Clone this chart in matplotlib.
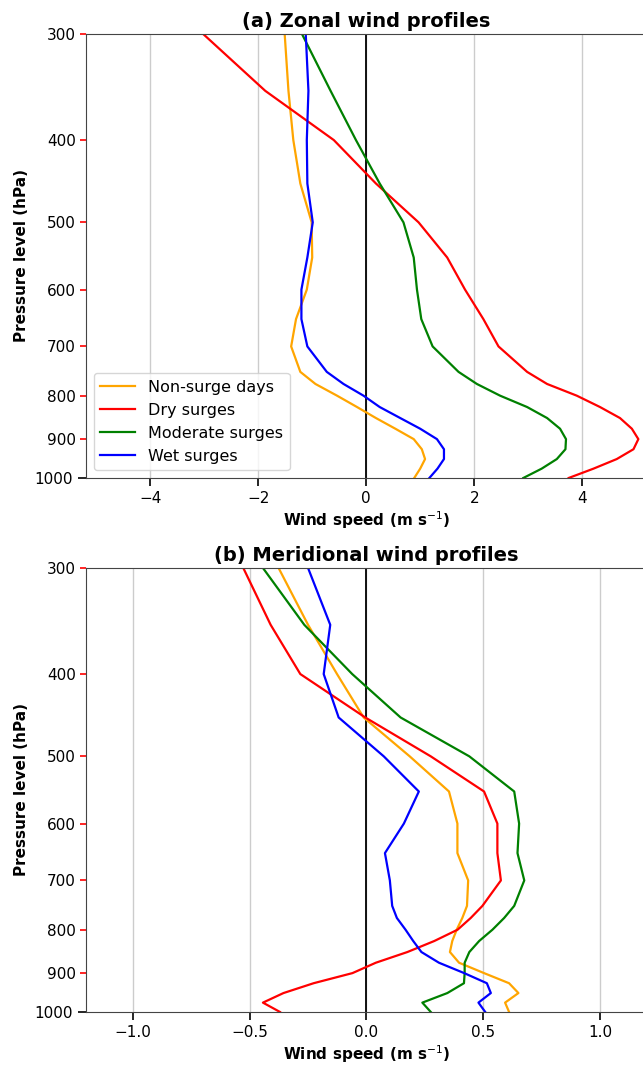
import numpy as np
import matplotlib
matplotlib.use("Agg")
import matplotlib.pyplot as plt
from matplotlib.ticker import NullFormatter

# pressure levels (hPa)
levels = [300, 350, 400, 450, 500, 550, 600, 650, 700, 750, 775, 800,
          825, 850, 875, 900, 925, 950, 975, 1000]
ytick_minor = [300, 400, 500, 600, 700, 800, 900]
ytick_major = [1000]

# zonal wind (m/s)
u_nonsurge = [-1.51, -1.44, -1.35, -1.22, -1.01, -1.00, -1.10, -1.30, -1.39, -1.22,
              -0.94, -0.54, -0.17, 0.18, 0.54, 0.88, 1.03, 1.09, 1.00, 0.89]
u_dry = [-3.02, -1.87, -0.60, 0.18, 0.97, 1.50, 1.83, 2.17, 2.45, 2.98,
         3.35, 3.90, 4.33, 4.70, 4.92, 5.04, 4.95, 4.64, 4.21, 3.75]
u_moderate = [-1.19, -0.66, -0.19, 0.25, 0.69, 0.88, 0.94, 1.02, 1.23, 1.71,
              2.05, 2.48, 2.98, 3.35, 3.59, 3.70, 3.69, 3.53, 3.25, 2.91]
u_wet = [-1.12, -1.07, -1.10, -1.09, -0.99, -1.09, -1.20, -1.20, -1.09, -0.73,
         -0.42, -0.05, 0.25, 0.63, 1.00, 1.31, 1.44, 1.44, 1.32, 1.17]

# meridional wind (m/s)
v_nonsurge = [-0.376, -0.25, -0.126, -0.012, 0.185, 0.353, 0.389, 0.389, 0.435, 0.43,
              0.41, 0.386, 0.367, 0.357, 0.396, 0.503, 0.61, 0.65, 0.593, 0.61]
v_dry = [-0.527, -0.41, -0.283, -0.005, 0.275, 0.503, 0.56, 0.56, 0.575, 0.496,
         0.446, 0.39, 0.29, 0.175, 0.04, -0.06, -0.226, -0.355, -0.443, -0.37]
v_moderate = [-0.443, -0.266, -0.061, 0.146, 0.44, 0.632, 0.653, 0.646, 0.675, 0.632,
              0.589, 0.539, 0.482, 0.44, 0.42, 0.42, 0.417, 0.346, 0.239, 0.275]
v_wet = [-0.25, -0.155, -0.183, -0.119, 0.074, 0.224, 0.16, 0.079, 0.10, 0.11,
         0.13, 0.167, 0.20, 0.235, 0.31, 0.418, 0.515, 0.532, 0.479, 0.508]

labels = ["Non-surge days", "Dry surges", "Moderate surges", "Wet surges"]
colors = ["orange", "red", "green", "blue"]

fig = plt.figure(figsize=(6.43, 10.65), dpi=100)
ax1 = fig.add_axes([0.1337, 0.5512, 0.8725, 0.4169])
ax2 = fig.add_axes([0.1337, 0.0498, 0.8725, 0.4169])


def style_axis(ax, series, title, xlim, xticks, legend=False):
    for vals, lab, col in zip(series, labels, colors):
        ax.plot(vals, levels, color=col, lw=1.6, label=lab)
    ax.axvline(0, color="black", lw=1.3, zorder=1)
    ax.set_yscale("log")
    ax.set_ylim(1000, 300)
    ax.set_yticks(ytick_major)
    ax.set_yticklabels([str(p) for p in ytick_major])
    ax.set_yticks(ytick_minor, minor=True)
    ax.set_yticklabels([str(p) for p in ytick_minor], minor=True)
    ax.tick_params(axis="y", which="minor", color="red", length=4, width=1.2,
                   labelsize=11)
    ax.tick_params(axis="y", which="major", length=6, width=1.2, labelsize=11)
    ax.set_xlim(*xlim)
    ax.set_xticks(xticks)
    ax.tick_params(axis="x", length=6, width=1.2, labelsize=11)
    ax.grid(axis="x", color="#cccccc", lw=1)
    ax.set_axisbelow(True)
    ax.set_title(title, fontsize=14, fontweight="bold", pad=5)
    ax.set_xlabel("Wind speed (m s$^{-1}$)", fontsize=11, fontweight="bold", labelpad=2)
    ax.set_ylabel("Pressure level (hPa)", fontsize=11, fontweight="bold")
    for s in ax.spines.values():
        s.set_color("#444444")
    if legend:
        ax.legend(loc="lower left", fontsize=11.5, handlelength=2.2)


style_axis(ax1, [u_nonsurge, u_dry, u_moderate, u_wet], "(a) Zonal wind profiles",
           (-5.19, 5.2), [-4, -2, 0, 2, 4], legend=True)
style_axis(ax2, [v_nonsurge, v_dry, v_moderate, v_wet], "(b) Meridional wind profiles",
           (-1.2, 1.2), [-1.0, -0.5, 0.0, 0.5, 1.0])

fig.savefig("out.png", dpi=100)
